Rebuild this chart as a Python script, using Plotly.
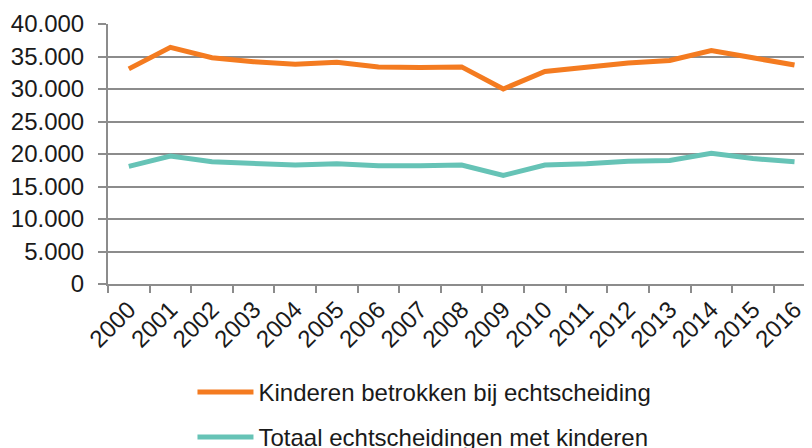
import plotly.graph_objects as go

years = [str(y) for y in range(2000, 2017)]
kinderen = [33100, 36400, 34800, 34200, 33800, 34100, 33400, 33300, 33400, 30000,
            32700, 33300, 34000, 34400, 35900, 34800, 33700]
totaal = [18100, 19700, 18800, 18500, 18300, 18500, 18200, 18200, 18300, 16700,
          18300, 18500, 18900, 19000, 20100, 19300, 18800]
y_ticks = [0, 5000, 10000, 15000, 20000, 25000, 30000, 35000, 40000]

fig = go.Figure()
fig.add_trace(go.Scatter(x=years, y=kinderen, mode="lines", name="Kinderen betrokken bij echtscheiding",
                         line=dict(color="#F47B20", width=5), legendgroup="a"))
fig.add_trace(go.Scatter(x=years, y=totaal, mode="lines", name="Totaal echtscheidingen met kinderen",
                         line=dict(color="#66C3B6", width=5), legendgroup="b"))

fig.update_layout(
    width=804, height=440,
    margin=dict(l=100, r=0, t=16, b=164, autoexpand=False),
    paper_bgcolor="white", plot_bgcolor="white",
    separators=",.",
    font=dict(family="Liberation Sans, Arial, sans-serif", size=24, color="#1a1a1a"),
    showlegend=True,
    legend=dict(orientation="v", x=0.12, y=-0.33, xanchor="left", yanchor="top",
                tracegroupgap=11, itemwidth=56, font=dict(size=24)),
)
fig.update_xaxes(type="category", range=[-0.5, 16.42], tickangle=-45,
                 showline=True, linecolor="#8c8c8c", linewidth=2,
                 ticks="outside", tickson="boundaries", ticklen=7, tickcolor="#8c8c8c",
                 tickwidth=2, showgrid=False, tickfont=dict(size=24))
fig.update_yaxes(range=[0, 40000], tickvals=y_ticks, tickformat=",d",
                 showline=True, linecolor="#8c8c8c", linewidth=2,
                 ticks="outside", ticklen=8, tickcolor="#8c8c8c", tickwidth=2,
                 showgrid=True, gridcolor="#8c8c8c", gridwidth=2,
                 zeroline=False, ticklabelstandoff=9, tickfont=dict(size=24))

fig.write_html("out.html")
